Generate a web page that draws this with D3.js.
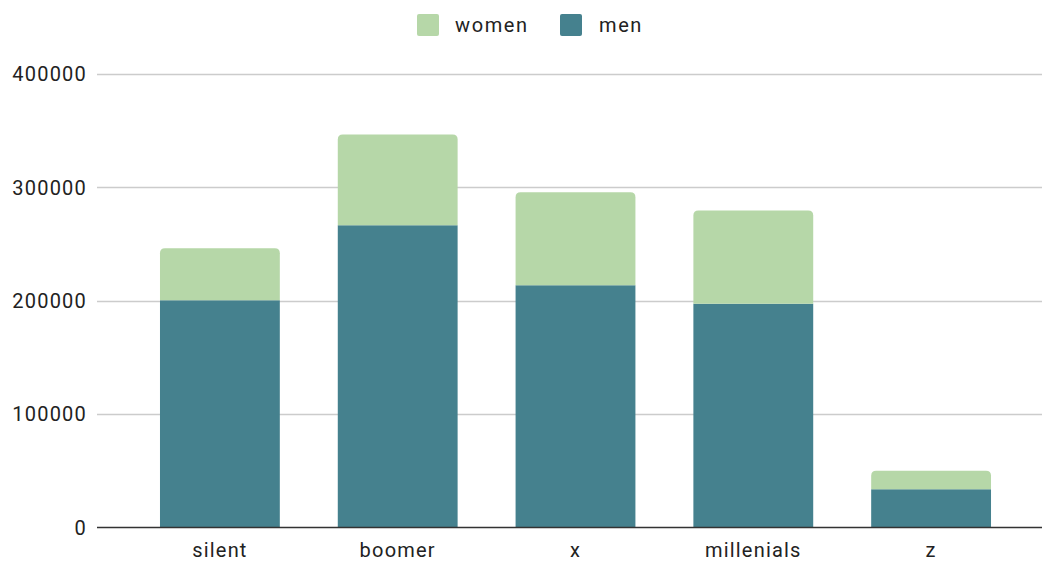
<!DOCTYPE html>
<html>
<head>
<meta charset="utf-8">
<script src="https://cdn.jsdelivr.net/npm/d3@7"></script>
<style>
  html, body { margin: 0; padding: 0; background: #fff; }
  svg { display: block; font-family: Roboto, "Liberation Sans", Arial, sans-serif; }
</style>
</head>
<body>
<svg id="chart" width="1042" height="561"></svg>
<script>
// Generations and population split by gender
const generations = ["silent", "boomer", "x", "millenials", "z"];
const men   = [200500, 266600, 213600, 197400, 33700];
const women = [45700, 80100, 82000, 82100, 16400];
const seriesNames = ["women", "men"];
const yTicks = [0, 100000, 200000, 300000, 400000];

const colors = { women: "#b6d7a8", men: "#45818e" };

const svg = d3.select("#chart");
const W = 1042;

const rows = generations.map((g, i) => ({ gen: g, men: men[i], women: women[i] }));
const stacked = d3.stack().keys(["men", "women"])(rows);

const x = d3.scaleBand()
  .domain(generations)
  .range([131, 1020])
  .paddingInner(0.326)
  .paddingOuter(0.163);

const y = d3.scaleLinear().domain([0, 400000]).range([527.5, 74]);

const gridLeft = 97;

// horizontal gridlines
svg.append("g")
  .selectAll("line")
  .data(yTicks.filter(t => t !== 0))
  .join("line")
  .attr("x1", gridLeft).attr("x2", W)
  .attr("y1", d => Math.round(y(d)) + 0.5)
  .attr("y2", d => Math.round(y(d)) + 0.5)
  .attr("stroke", "#cccccc")
  .attr("stroke-width", 1.3);

// y tick labels
svg.append("g")
  .selectAll("text")
  .data(yTicks)
  .join("text")
  .attr("x", 87)
  .attr("y", d => y(d))
  .attr("dy", "0.36em")
  .attr("text-anchor", "end")
  .attr("font-size", 20)
  .attr("letter-spacing", 1.2)
  .attr("fill", "#222")
  .text(d => d3.format("d")(d));

// bar path with rounded top corners
function topRounded(x0, y0, w, h, r) {
  r = Math.min(r, h, w / 2);
  return `M${x0},${y0 + h}V${y0 + r}Q${x0},${y0} ${x0 + r},${y0}` +
         `H${x0 + w - r}Q${x0 + w},${y0} ${x0 + w},${y0 + r}V${y0 + h}Z`;
}

// stacked bars
stacked.forEach(layer => {
  const key = layer.key;
  const g = svg.append("g").attr("fill", colors[key]);
  g.selectAll("path")
    .data(layer)
    .join("path")
    .attr("d", d => {
      const x0 = x(d.data.gen);
      const y0 = y(d[1]);
      const h = y(d[0]) - y(d[1]);
      const r = key === "women" ? 5 : 0;
      return topRounded(x0, y0, x.bandwidth(), h, r);
    });
});

// baseline
svg.append("line")
  .attr("x1", gridLeft).attr("x2", W)
  .attr("y1", 527.5).attr("y2", 527.5)
  .attr("stroke", "#333")
  .attr("stroke-width", 1.3);

// category labels
svg.append("g")
  .selectAll("text")
  .data(generations)
  .join("text")
  .attr("x", d => x(d) + x.bandwidth() / 2)
  .attr("y", 557)
  .attr("text-anchor", "middle")
  .attr("font-size", 20)
  .attr("letter-spacing", 1.2)
  .attr("fill", "#222")
  .text(d => d);

// legend
const legendItems = [
  { name: seriesNames[0], sx: 417, tx: 455 },
  { name: seriesNames[1], sx: 560, tx: 599 }
];
const lg = svg.append("g");
legendItems.forEach(it => {
  lg.append("rect")
    .attr("x", it.sx).attr("y", 14)
    .attr("width", 22).attr("height", 22)
    .attr("rx", 2)
    .attr("fill", colors[it.name]);
  lg.append("text")
    .attr("x", it.tx).attr("y", 32)
    .attr("font-size", 20)
    .attr("letter-spacing", 1.6)
    .attr("fill", "#222")
    .text(it.name);
});
</script>
</body>
</html>
